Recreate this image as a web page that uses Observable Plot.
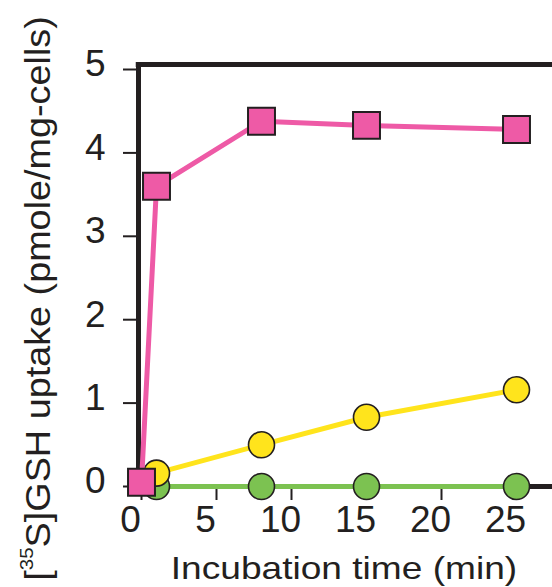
<!DOCTYPE html>
<html><head><meta charset="utf-8">
<script src="https://cdn.jsdelivr.net/npm/d3@7"></script>
<script src="https://cdn.jsdelivr.net/npm/@observablehq/plot@0.6"></script>
<style>html,body{margin:0;padding:0;background:#fff} svg{display:block}</style>
</head><body><div id="chart"></div>
<script>
// Data
const times = [0, 1, 8, 15, 25];
const pinkUptake = [0.05, 3.6, 4.38, 4.33, 4.28];
const yellowUptake = [0, 0.16, 0.5, 0.83, 1.16];
const greenUptake = [0, 0, 0, 0, 0];
const xTicks = [0, 5, 10, 15, 20, 25];
const yTicks = [0, 1, 2, 3, 4, 5];
const xLabel = "Incubation time (min)";
const yLabelParts = ["[", "35", "S]GSH uptake (pmole/mg-cells)"];

const toRows = (vals) => times.map((t, i) => ({t, v: vals[i]}));
const pinkRows = toRows(pinkUptake);
const yellowRows = toRows(yellowUptake);
const greenRows = toRows(greenUptake);
// markers at t=0 for yellow/green are hidden under the pink square in the reference
const yellowDots = yellowRows.filter(d => d.t > 0);
const greenDots = greenRows.filter(d => d.t > 0);

const ink = "#231f20";
const pink = "#ee5aa6", yellow = "#ffe41c", green = "#7cc251";
const xMax = 27.4, yMax = 5.06;
const font = "'Liberation Sans', Arial, Helvetica, sans-serif";

const chart = Plot.plot({
  width: 552, height: 587,
  marginLeft: 141, marginRight: 0, marginTop: 64, marginBottom: 101,
  style: {fontFamily: font, background: "white", color: ink, overflow: "visible"},
  x: {domain: [0, xMax]},
  y: {domain: [0, yMax]},
  marks: [
    // tick marks
    Plot.ruleX(xTicks, {y1: 0, y2: -0.168, stroke: ink, strokeWidth: 2}),
    Plot.ruleY(yTicks, {x1: -1.2, x2: 0, stroke: ink, strokeWidth: 2}),
    // frame
    Plot.ruleY([0], {x1: 0, x2: xMax, stroke: ink, strokeWidth: 5}),
    Plot.ruleX([0], {y1: 0, y2: yMax, stroke: ink, strokeWidth: 5, dx: -3}),
    Plot.ruleY([yMax], {x1: -0.35, x2: xMax, stroke: ink, strokeWidth: 5}),
    // tick labels
    Plot.axisY({ticks: yTicks, tickSize: 0, tickPadding: 36, fontSize: 37, dy: -5, label: null, tickFormat: d => String(d)}),
    Plot.axisX({ticks: xTicks, tickSize: 0, tickPadding: 19, fontSize: 37, dx: -11, label: null, tickFormat: d => String(d)}),
    // series
    Plot.line(greenRows, {x: "t", y: "v", stroke: green, strokeWidth: 5}),
    Plot.dot(greenDots, {x: "t", y: "v", r: 13, fill: green, stroke: ink, strokeWidth: 1.6}),
    Plot.line(yellowRows, {x: "t", y: "v", stroke: yellow, strokeWidth: 5}),
    Plot.dot(yellowDots, {x: "t", y: "v", r: 13, fill: yellow, stroke: ink, strokeWidth: 1.6}),
    Plot.line(pinkRows, {x: "t", y: "v", stroke: pink, strokeWidth: 5}),
    Plot.dot(pinkRows, {x: "t", y: "v", r: 15.2, symbol: "square", fill: pink, stroke: ink, strokeWidth: 2})
  ]
});

const svg = d3.select(chart);
svg.append("text")
  .attr("transform", "translate(344,579) scale(1.16,1)")
  .attr("text-anchor", "middle")
  .attr("fill", ink)
  .style("font-family", font).style("font-size", "32px")
  .text(xLabel);

const yl = svg.append("text")
  .attr("transform", "translate(50,298.5) rotate(-90) scale(1.08,1)")
  .attr("text-anchor", "middle")
  .attr("fill", ink)
  .style("font-family", font).style("font-size", "35px");
yl.append("tspan").text(yLabelParts[0]);
yl.append("tspan").attr("dy", -17).style("font-size", "19px").text(yLabelParts[1]);
yl.append("tspan").attr("dy", 17).text(yLabelParts[2]);

document.getElementById("chart").appendChild(chart);
</script>
</body></html>
